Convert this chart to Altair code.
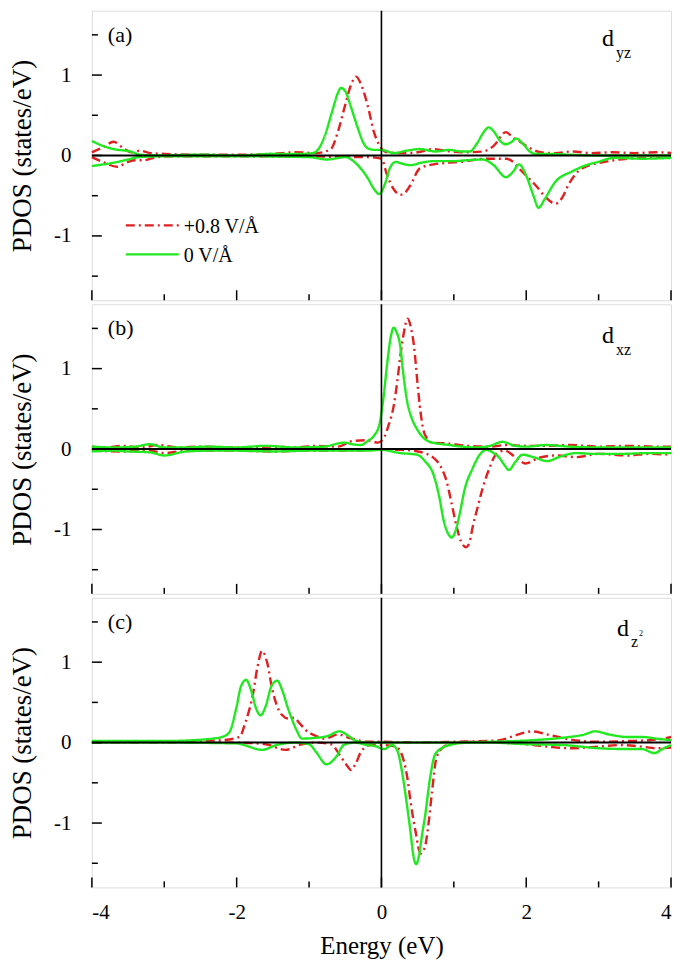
import altair as alt
import pandas as pd

# ---------------- data ----------------
FIELDS = ["+0.8 V/Å", "0 V/Å"]
COLORS = ["#e02020", "#22e822"]
DASHES = [[9, 4, 2, 4], [1, 0]]

X_LABELS = [-4, -2, 0, 2, 4]
X_MINOR = [-3, -1, 1, 3]
Y_LABELS = [-1, 0, 1]
Y_MINOR = [-1.5, -0.5, 0.5, 1.5]

# panel (a) d_yz
A_RED_UP_E = [-4.0, -3.85, -3.7, -3.55, -3.45, -3.33, -3.2, -3.0, -2.5, -2.0, -1.5, -1.2, -0.9, -0.7, -0.6, -0.5, -0.42, -0.35, -0.28, -0.19, -0.1, -0.03, 0.08, 0.3, 0.5, 0.72, 0.95, 1.17, 1.4, 1.55, 1.72, 1.82, 1.9, 2.0, 2.08, 2.2, 2.4, 2.63, 2.9, 3.2, 3.5, 3.8, 4.0]
A_RED_UP = [0.04, 0.1, 0.17, 0.08, 0.04, 0.06, 0.03, 0.02, 0.01, 0.01, 0.02, 0.04, 0.03, 0.08, 0.3, 0.63, 0.88, 0.98, 0.88, 0.62, 0.28, 0.13, 0.04, 0.03, 0.04, 0.08, 0.05, 0.04, 0.05, 0.12, 0.29, 0.22, 0.18, 0.12, 0.08, 0.04, 0.03, 0.05, 0.03, 0.04, 0.03, 0.04, 0.03]
A_RED_DN_E = [-4.0, -3.85, -3.65, -3.5, -3.4, -3.29, -3.1, -2.8, -2.0, -1.0, -0.5, -0.19, 0.0, 0.08, 0.17, 0.26, 0.33, 0.4, 0.53, 0.72, 1.08, 1.45, 1.72, 1.82, 1.9, 2.0, 2.13, 2.27, 2.4, 2.5, 2.58, 2.77, 3.08, 3.4, 3.7, 4.0]
A_RED_DN = [-0.02, -0.08, -0.14, -0.08, -0.06, -0.06, -0.02, -0.01, -0.01, -0.01, -0.02, -0.02, -0.04, -0.25, -0.42, -0.49, -0.46, -0.37, -0.16, -0.11, -0.08, -0.04, -0.04, -0.08, -0.16, -0.25, -0.37, -0.52, -0.6, -0.52, -0.37, -0.16, -0.08, -0.04, -0.03, -0.03]
A_GRN_UP_E = [-4.0, -3.85, -3.7, -3.47, -3.33, -3.1, -2.5, -2.0, -1.5, -1.1, -0.95, -0.87, -0.78, -0.68, -0.6, -0.56, -0.5, -0.42, -0.33, -0.25, -0.19, -0.1, 0.0, 0.17, 0.35, 0.53, 0.75, 0.94, 1.1, 1.22, 1.32, 1.42, 1.48, 1.55, 1.65, 1.72, 1.8, 1.86, 1.95, 2.05, 2.13, 2.3, 2.6, 3.0, 3.3, 3.6, 4.0]
A_GRN_UP = [0.18, 0.12, 0.08, 0.05, 0.01, 0.0, 0.01, 0.0, 0.02, 0.02, 0.03, 0.08, 0.25, 0.55, 0.78, 0.84, 0.8, 0.6, 0.35, 0.16, 0.09, 0.07, 0.07, 0.03, 0.06, 0.08, 0.05, 0.07, 0.05, 0.05, 0.15, 0.3, 0.35, 0.3, 0.17, 0.14, 0.17, 0.21, 0.15, 0.05, 0.02, 0.02, 0.01, 0.0, 0.0, 0.0, 0.0]
A_GRN_DN_E = [-4.0, -3.7, -3.5, -3.35, -3.0, -2.0, -1.0, -0.75, -0.5, -0.35, -0.19, -0.1, -0.03, 0.05, 0.12, 0.2, 0.28, 0.4, 0.55, 0.72, 1.0, 1.17, 1.4, 1.55, 1.72, 1.82, 1.9, 2.0, 2.1, 2.17, 2.25, 2.4, 2.63, 2.8, 2.99, 3.22, 3.6, 4.0]
A_GRN_DN = [-0.13, -0.09, -0.05, -0.02, -0.01, -0.01, -0.02, -0.05, -0.02, -0.1, -0.28, -0.42, -0.48, -0.35, -0.15, -0.08, -0.1, -0.12, -0.09, -0.07, -0.07, -0.06, -0.05, -0.12, -0.27, -0.2, -0.11, -0.25, -0.5, -0.65, -0.55, -0.33, -0.2, -0.13, -0.08, -0.03, -0.04, -0.03]

# panel (b) d_xz
B_RED_UP_E = [-4.0, -3.8, -3.6, -3.3, -3.1, -2.8, -2.5, -2.0, -1.5, -1.2, -0.9, -0.6, -0.4, -0.19, -0.05, 0.04, 0.1, 0.17, 0.22, 0.26, 0.31, 0.36, 0.41, 0.45, 0.5, 0.54, 0.6, 0.7, 0.9, 1.2, 1.5, 1.72, 2.0, 2.27, 2.6, 3.0, 3.4, 3.8, 4.0]
B_RED_UP = [0.03, 0.02, 0.04, 0.02, 0.05, 0.02, 0.03, 0.02, 0.03, 0.02, 0.04, 0.03, 0.1, 0.11, 0.08, 0.15, 0.3, 0.54, 0.85, 1.15, 1.45, 1.62, 1.5, 1.28, 0.8, 0.46, 0.18, 0.08, 0.07, 0.04, 0.03, 0.05, 0.04, 0.04, 0.05, 0.03, 0.04, 0.03, 0.03]
B_RED_DN_E = [-4.0, -3.6, -3.2, -3.0, -2.8, -2.4, -2.0, -1.5, -1.0, -0.5, 0.0, 0.26, 0.5, 0.72, 0.82, 0.9, 0.97, 1.04, 1.1, 1.17, 1.22, 1.26, 1.33, 1.4, 1.5, 1.58, 1.7, 1.85, 1.99, 2.17, 2.4, 2.7, 3.0, 3.4, 3.7, 4.0]
B_RED_DN = [-0.02, -0.03, -0.02, -0.05, -0.03, -0.02, -0.02, -0.03, -0.02, -0.02, -0.01, -0.01, -0.03, -0.11, -0.22, -0.4, -0.68, -0.97, -1.15, -1.22, -1.15, -0.97, -0.72, -0.48, -0.22, -0.07, -0.02, -0.1, -0.18, -0.11, -0.08, -0.1, -0.06, -0.08, -0.06, -0.07]
B_GRN_UP_E = [-4.0, -3.7, -3.4, -3.2, -3.0, -2.7, -2.4, -2.0, -1.6, -1.2, -0.8, -0.51, -0.4, -0.28, -0.19, -0.1, -0.03, 0.03, 0.08, 0.13, 0.17, 0.21, 0.26, 0.3, 0.35, 0.42, 0.49, 0.58, 0.67, 0.94, 1.3, 1.5, 1.67, 1.85, 2.0, 2.27, 2.6, 3.0, 3.5, 4.0]
B_GRN_UP = [0.03, 0.02, 0.03, 0.06, 0.02, 0.02, 0.03, 0.02, 0.04, 0.02, 0.03, 0.08, 0.06, 0.05, 0.1, 0.17, 0.3, 0.65, 1.07, 1.4, 1.51, 1.45, 1.28, 0.95, 0.62, 0.38, 0.25, 0.14, 0.09, 0.05, 0.02, 0.04, 0.09, 0.04, 0.03, 0.05, 0.03, 0.02, 0.02, 0.02]
B_GRN_DN_E = [-4.0, -3.7, -3.5, -3.2, -3.0, -2.7, -2.4, -2.0, -1.5, -1.0, -0.5, -0.2, 0.0, 0.26, 0.49, 0.6, 0.72, 0.8, 0.86, 0.92, 0.97, 1.03, 1.08, 1.15, 1.26, 1.35, 1.45, 1.55, 1.63, 1.7, 1.76, 1.85, 1.95, 2.1, 2.29, 2.45, 2.7, 2.92, 3.3, 3.7, 4.0]
B_GRN_DN = [-0.03, -0.02, -0.03, -0.04, -0.08, -0.03, -0.02, -0.02, -0.03, -0.02, -0.02, -0.02, -0.01, -0.05, -0.07, -0.15, -0.32, -0.6, -0.89, -1.05, -1.1, -1.0, -0.81, -0.5, -0.24, -0.08, -0.01, -0.05, -0.11, -0.2, -0.26, -0.16, -0.07, -0.1, -0.15, -0.1, -0.05, -0.06, -0.06, -0.05, -0.05]

# panel (c) d_z2
C_RED_UP_E = [-4.0, -3.0, -2.5, -2.2, -1.96, -1.88, -1.78, -1.71, -1.65, -1.58, -1.51, -1.44, -1.37, -1.29, -1.21, -1.13, -1.05, -0.9, -0.78, -0.6, -0.45, -0.37, -0.2, 0.0, 0.5, 1.0, 1.63, 1.85, 2.08, 2.3, 2.6, 3.0, 3.4, 3.7, 3.9, 4.0]
C_RED_UP = [0.01, 0.01, 0.02, 0.03, 0.07, 0.25, 0.58, 0.95, 1.14, 1.0, 0.67, 0.45, 0.34, 0.3, 0.31, 0.24, 0.16, 0.08, 0.05, 0.1, 0.06, 0.04, 0.01, 0.01, 0.0, 0.01, 0.03, 0.09, 0.14, 0.1, 0.04, 0.01, 0.02, 0.03, 0.05, 0.07]
C_RED_DN_E = [-4.0, -3.0, -2.0, -1.6, -1.33, -1.1, -0.9, -0.7, -0.55, -0.48, -0.42, -0.35, -0.28, -0.15, 0.0, 0.2, 0.31, 0.36, 0.4, 0.47, 0.54, 0.6, 0.65, 0.7, 0.76, 0.85, 0.95, 1.2, 1.6, 2.0, 2.3, 2.6, 3.0, 3.3, 3.6, 3.8, 4.0]
C_RED_DN = [0.0, 0.0, 0.0, -0.02, -0.09, -0.02, 0.0, -0.02, -0.19, -0.28, -0.34, -0.25, -0.11, -0.03, -0.03, -0.05, -0.23, -0.45, -0.72, -1.1, -1.38, -1.3, -1.01, -0.6, -0.19, -0.06, -0.02, 0.01, 0.0, -0.02, -0.05, -0.07, -0.05, -0.03, -0.05, -0.07, -0.06]
C_GRN_UP_E = [-4.0, -3.5, -3.0, -2.6, -2.33, -2.2, -2.1, -2.0, -1.94, -1.87, -1.8, -1.73, -1.67, -1.6, -1.52, -1.44, -1.37, -1.3, -1.24, -1.17, -1.1, -0.9, -0.75, -0.58, -0.45, -0.37, -0.19, 0.0, 0.3, 0.6, 1.0, 1.5, 2.08, 2.5, 2.8, 2.95, 3.15, 3.4, 3.6, 3.8, 4.0]
C_GRN_UP = [0.02, 0.02, 0.02, 0.03, 0.05, 0.07, 0.13, 0.45, 0.7, 0.78, 0.65, 0.42, 0.34, 0.45, 0.7, 0.77, 0.65, 0.45, 0.3, 0.15, 0.05, 0.06, 0.08, 0.14, 0.08, 0.03, 0.0, 0.0, 0.0, 0.0, 0.0, 0.01, 0.03, 0.06, 0.1, 0.14, 0.1, 0.07, 0.07, 0.05, 0.03]
C_GRN_DN_E = [-4.0, -3.0, -2.0, -1.9, -1.65, -1.45, -1.2, -1.0, -0.9, -0.76, -0.62, -0.52, -0.37, -0.2, -0.1, 0.04, 0.15, 0.22, 0.3, 0.35, 0.4, 0.44, 0.48, 0.52, 0.56, 0.6, 0.67, 0.74, 0.85, 0.94, 1.2, 1.5, 2.0, 2.5, 3.0, 3.4, 3.6, 3.77, 3.9, 4.0]
C_GRN_DN = [0.0, 0.0, -0.01, -0.03, -0.09, -0.03, 0.0, -0.02, -0.12, -0.27, -0.17, -0.03, 0.0, -0.03, -0.04, -0.08, -0.03, -0.1, -0.45, -0.76, -1.1, -1.4, -1.51, -1.4, -1.15, -0.93, -0.45, -0.15, -0.06, -0.03, 0.0, 0.0, -0.02, -0.03, -0.07, -0.08, -0.08, -0.13, -0.07, -0.03]

PANEL_LETTERS = ["(a)", "(b)", "(c)"]
ORBITAL_SUBS = ["yz", "xz", "z"]
ORBITAL_SUPS = ["", "", "2"]

# ---------------- layout ----------------
W, H = 580, 290
FONT = "Liberation Serif"

xscale = alt.Scale(domain=[-4, 4], nice=False, zero=False)
yscale = alt.Scale(domain=[-1.8, 1.8], nice=False, zero=False)
color_scale = alt.Scale(domain=FIELDS, range=COLORS)
dash_scale = alt.Scale(domain=FIELDS, range=DASHES)


def series_df(series):
    rows = []
    for field, spin, es, vs in series:
        for e, v in zip(es, vs):
            rows.append({"E": e, "DOS": v, "field": field, "spin": spin})
    return pd.DataFrame(rows)


one = pd.DataFrame({"k": [0]})


def text_layer(txt, x, y, size):
    return alt.Chart(one).mark_text(
        font=FONT, fontSize=size, align="left", baseline="alphabetic", color="black"
    ).encode(x=alt.value(x), y=alt.value(y), text=alt.value(txt))


def panel(idx, series, bottom):
    df = series_df(series)
    if bottom:
        xaxis = alt.Axis(
            values=X_LABELS, labelExpr="'' + datum.value", ticks=False, domain=False,
            grid=False, labelPadding=14, labelFontSize=21, labelFont=FONT,
            labelColor="black", title="Energy (eV)", titleFont=FONT, titleFontSize=25,
            titleFontWeight="normal", titleColor="black", titlePadding=11,
        )
    else:
        xaxis = None
    yaxis = alt.Axis(
        values=Y_LABELS, labelExpr="'' + datum.value", ticks=False, domain=False,
        grid=False, labelPadding=21, labelFontSize=21, labelFont=FONT,
        labelColor="black", title="PDOS (states/eV)", titleFont=FONT,
        titleFontSize=27, titleFontWeight="normal", titleColor="black", titlePadding=17,
    )
    lines = alt.Chart(df).mark_line(interpolate="monotone", strokeWidth=2.4).encode(
        x=alt.X("E:Q", scale=xscale, axis=xaxis),
        y=alt.Y("DOS:Q", scale=yscale, axis=yaxis),
        color=alt.Color("field:N", scale=color_scale, legend=None),
        strokeDash=alt.StrokeDash("field:N", scale=dash_scale, legend=None),
        detail="spin:N",
        order=alt.Order("E:Q"),
    )
    zero_h = alt.Chart(one).mark_rule(color="black", strokeWidth=2).encode(
        y=alt.Y("z:Q", scale=yscale, axis=yaxis)
    ).transform_calculate(z="0")
    zero_v = alt.Chart(one).mark_rule(color="black", strokeWidth=1.6).encode(
        x=alt.X("z:Q", scale=xscale, axis=xaxis)
    ).transform_calculate(z="0")

    yt_major = alt.Chart(pd.DataFrame({"v": Y_LABELS})).mark_rule(color="black", strokeWidth=1.5).encode(
        y=alt.Y("v:Q", scale=yscale, axis=yaxis), x=alt.value(0), x2=alt.value(10))
    yt_minor = alt.Chart(pd.DataFrame({"v": Y_MINOR})).mark_rule(color="black", strokeWidth=1.5).encode(
        y=alt.Y("v:Q", scale=yscale, axis=yaxis), x=alt.value(0), x2=alt.value(6))
    xt_major = alt.Chart(pd.DataFrame({"v": X_LABELS})).mark_rule(color="black", strokeWidth=1.5).encode(
        x=alt.X("v:Q", scale=xscale, axis=xaxis), y=alt.value(H), y2=alt.value(H - 10))
    xt_minor = alt.Chart(pd.DataFrame({"v": X_MINOR})).mark_rule(color="black", strokeWidth=1.5).encode(
        x=alt.X("v:Q", scale=xscale, axis=xaxis), y=alt.value(H), y2=alt.value(H - 6))

    layers = [lines, zero_h, zero_v, yt_major, yt_minor, xt_major, xt_minor]

    # panel letter and orbital label
    layers.append(text_layer(PANEL_LETTERS[idx], 16, 31, 22))
    if idx == 0:
        layers.append(text_layer("d", 511, 35, 24))
        layers.append(text_layer(ORBITAL_SUBS[idx], 525, 47, 16))
    elif idx == 1:
        layers.append(text_layer("d", 511, 39, 24))
        layers.append(text_layer(ORBITAL_SUBS[idx], 525, 51, 16))
    else:
        layers.append(text_layer("d", 526, 38, 24))
        layers.append(text_layer(ORBITAL_SUBS[idx], 540, 49, 16))
        layers.append(text_layer(ORBITAL_SUPS[idx], 548, 38, 8))

    if idx == 0:
        for k, (fld, col, dash) in enumerate(zip(FIELDS, COLORS, DASHES)):
            ly = 215 + 29 * k
            layers.append(
                alt.Chart(one).mark_rule(color=col, strokeWidth=2.4, strokeDash=dash).encode(
                    x=alt.value(34), x2=alt.value(87), y=alt.value(ly))
            )
            layers.append(text_layer(fld, 92, ly + 8, 20))

    return alt.layer(*layers).properties(width=W, height=H)


pa = panel(0, [
    (FIELDS[0], "up", A_RED_UP_E, A_RED_UP), (FIELDS[0], "dn", A_RED_DN_E, A_RED_DN),
    (FIELDS[1], "up", A_GRN_UP_E, A_GRN_UP), (FIELDS[1], "dn", A_GRN_DN_E, A_GRN_DN)], False)
pb = panel(1, [
    (FIELDS[0], "up", B_RED_UP_E, B_RED_UP), (FIELDS[0], "dn", B_RED_DN_E, B_RED_DN),
    (FIELDS[1], "up", B_GRN_UP_E, B_GRN_UP), (FIELDS[1], "dn", B_GRN_DN_E, B_GRN_DN)], False)
pc = panel(2, [
    (FIELDS[0], "up", C_RED_UP_E, C_RED_UP), (FIELDS[0], "dn", C_RED_DN_E, C_RED_DN),
    (FIELDS[1], "up", C_GRN_UP_E, C_GRN_UP), (FIELDS[1], "dn", C_GRN_DN_E, C_GRN_DN)], True)

chart = alt.vconcat(pa, pb, pc, spacing=0).properties(padding=0).configure_view(
    stroke="black", strokeWidth=1.6
).configure(background="white")

chart.save("out.html", embed_options={"renderer": "svg", "actions": False})
